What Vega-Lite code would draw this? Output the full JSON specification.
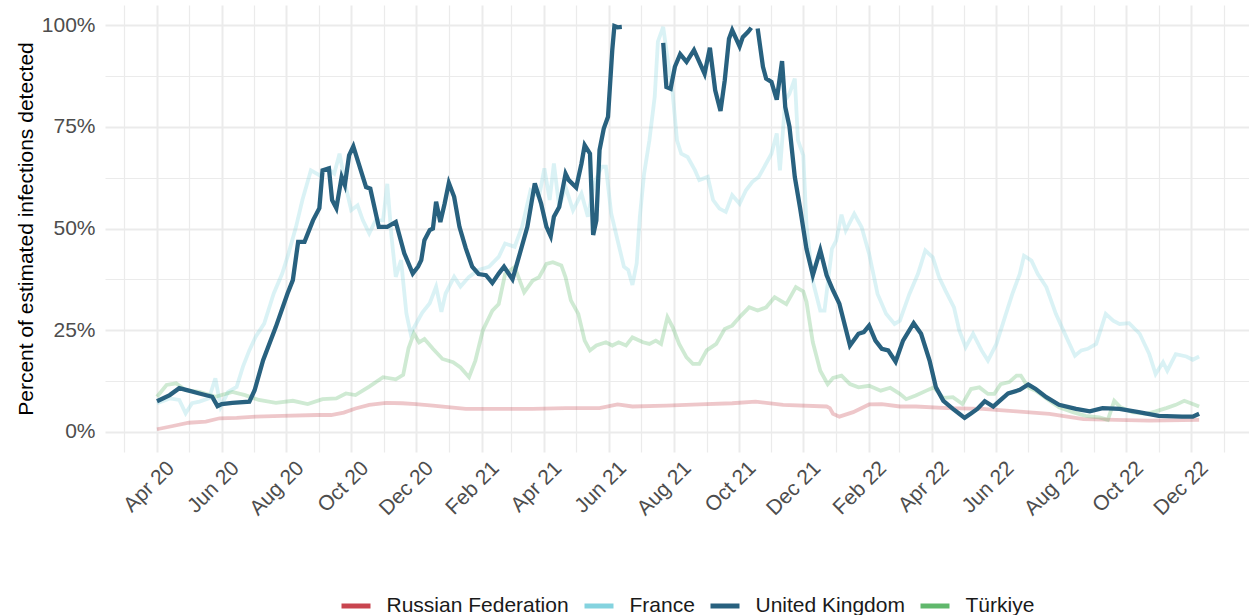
{
"$schema": "https://vega.github.io/schema/vega-lite/v6.json",
"width": 1144, "height": 447,
"autosize": {"type": "none"},
"padding": {"left": 105, "top": 5, "right": 0, "bottom": 163},
"background": "white",
"config": {"view": {"stroke": null}, "font": "Liberation Sans"},
"datasets": {
"uk": [
{"d":"2020-04-01","v":7.5},{"d":"2020-04-13","v":9.0},{"d":"2020-04-22","v":10.7},{"d":"2020-05-01","v":10.1},{"d":"2020-05-11","v":9.4},{"d":"2020-05-23","v":8.6},{"d":"2020-05-28","v":6.3},{"d":"2020-06-01","v":6.8},{"d":"2020-06-11","v":7.1},{"d":"2020-06-27","v":7.4},{"d":"2020-07-02","v":10.2},{"d":"2020-07-10","v":17.6},{"d":"2020-07-22","v":25.8},{"d":"2020-08-02","v":34},{"d":"2020-08-07","v":37.3},{"d":"2020-08-12","v":46.7},{"d":"2020-08-18","v":46.7},{"d":"2020-08-26","v":52},{"d":"2020-09-01","v":55},{"d":"2020-09-04","v":64.3},{"d":"2020-09-10","v":64.8},{"d":"2020-09-13","v":57},{"d":"2020-09-17","v":55},{"d":"2020-09-22","v":62.7},{"d":"2020-09-25","v":60.7},{"d":"2020-09-29","v":68},{"d":"2020-10-03","v":70.2},{"d":"2020-10-08","v":66},{"d":"2020-10-15","v":60.2},{"d":"2020-10-19","v":59.8},{"d":"2020-10-27","v":50.4},{"d":"2020-11-04","v":50.4},{"d":"2020-11-12","v":51.6},{"d":"2020-11-20","v":43.9},{"d":"2020-11-28","v":38.9},{"d":"2020-12-03","v":40.6},{"d":"2020-12-06","v":42.2},{"d":"2020-12-09","v":47.1},{"d":"2020-12-14","v":49.6},{"d":"2020-12-17","v":50},{"d":"2020-12-20","v":56.6},{"d":"2020-12-24","v":51.6},{"d":"2020-12-28","v":56.1},{"d":"2021-01-01","v":61.2},{"d":"2021-01-06","v":57.8},{"d":"2021-01-11","v":50.4},{"d":"2021-01-17","v":45.1},{"d":"2021-01-23","v":40.6},{"d":"2021-01-29","v":38.8},{"d":"2021-02-05","v":38.5},{"d":"2021-02-11","v":36.6},{"d":"2021-02-17","v":38.9},{"d":"2021-02-22","v":40.6},{"d":"2021-03-02","v":37.5},{"d":"2021-03-08","v":43},{"d":"2021-03-16","v":50.4},{"d":"2021-03-23","v":61.1},{"d":"2021-03-29","v":56.1},{"d":"2021-04-03","v":50.4},{"d":"2021-04-07","v":48.1},{"d":"2021-04-10","v":52.9},{"d":"2021-04-15","v":55.3},{"d":"2021-04-21","v":63.5},{"d":"2021-04-24","v":61.9},{"d":"2021-05-01","v":60.1},{"d":"2021-05-06","v":66},{"d":"2021-05-09","v":70.5},{"d":"2021-05-14","v":68.4},{"d":"2021-05-17","v":48.4},{"d":"2021-05-20","v":52},{"d":"2021-05-23","v":69.3},{"d":"2021-05-27","v":74.6},{"d":"2021-05-31","v":77.5},{"d":"2021-06-02","v":85.7},{"d":"2021-06-04","v":93.9},{"d":"2021-06-06","v":99.8},{"d":"2021-06-09","v":99.5},{"d":"2021-06-13","v":99.6},{"d":"2021-06-20","v":null},{"d":"2021-07-22","v":95.7},{"d":"2021-07-25","v":84.8},{"d":"2021-07-29","v":84.4},{"d":"2021-08-02","v":89.8},{"d":"2021-08-07","v":92.9},{"d":"2021-08-13","v":91},{"d":"2021-08-20","v":93.9},{"d":"2021-08-25","v":91},{"d":"2021-08-30","v":88.1},{"d":"2021-09-04","v":94.5},{"d":"2021-09-09","v":84},{"d":"2021-09-14","v":78.9},{"d":"2021-09-18","v":86.5},{"d":"2021-09-22","v":96.7},{"d":"2021-09-25","v":98.8},{"d":"2021-10-02","v":94.8},{"d":"2021-10-05","v":97.1},{"d":"2021-10-10","v":98.4},{"d":"2021-10-13","v":99.4},{"d":"2021-10-16","v":null},{"d":"2021-10-19","v":99.2},{"d":"2021-10-24","v":89.8},{"d":"2021-10-27","v":86.9},{"d":"2021-11-01","v":86.1},{"d":"2021-11-06","v":81.7},{"d":"2021-11-11","v":91.2},{"d":"2021-11-14","v":79.9},{"d":"2021-11-18","v":75},{"d":"2021-11-23","v":62.7},{"d":"2021-11-28","v":55},{"d":"2021-12-04","v":45},{"d":"2021-12-10","v":38.5},{"d":"2021-12-17","v":44.7},{"d":"2021-12-23","v":38.5},{"d":"2021-12-29","v":34.8},{"d":"2022-01-04","v":31.5},{"d":"2022-01-14","v":21.2},{"d":"2022-01-22","v":24.1},{"d":"2022-01-27","v":24.5},{"d":"2022-02-01","v":26.1},{"d":"2022-02-07","v":22.4},{"d":"2022-02-13","v":20.4},{"d":"2022-02-19","v":20},{"d":"2022-02-26","v":17.2},{"d":"2022-03-05","v":22.4},{"d":"2022-03-15","v":26.7},{"d":"2022-03-22","v":24.1},{"d":"2022-03-30","v":17.5},{"d":"2022-04-05","v":10.9},{"d":"2022-04-12","v":7.6},{"d":"2022-04-21","v":5.6},{"d":"2022-04-27","v":4.4},{"d":"2022-05-02","v":3.4},{"d":"2022-05-08","v":4.5},{"d":"2022-05-14","v":5.6},{"d":"2022-05-21","v":7.5},{"d":"2022-05-29","v":6.2},{"d":"2022-06-04","v":7.6},{"d":"2022-06-12","v":9.4},{"d":"2022-06-23","v":10.3},{"d":"2022-07-01","v":11.6},{"d":"2022-07-08","v":10.5},{"d":"2022-07-18","v":8.5},{"d":"2022-07-30","v":6.6},{"d":"2022-08-15","v":5.6},{"d":"2022-08-28","v":5},{"d":"2022-09-09","v":5.8},{"d":"2022-09-25","v":5.6},{"d":"2022-10-13","v":4.8},{"d":"2022-11-01","v":3.9},{"d":"2022-11-23","v":3.7},{"d":"2022-12-03","v":3.7},{"d":"2022-12-09","v":4.4}
],
"fr": [
{"d":"2020-04-01","v":7},{"d":"2020-04-13","v":8.2},{"d":"2020-04-22","v":7.8},{"d":"2020-04-28","v":4.5},{"d":"2020-05-04","v":7},{"d":"2020-05-11","v":7.4},{"d":"2020-05-20","v":8.2},{"d":"2020-05-26","v":13.1},{"d":"2020-05-31","v":6.1},{"d":"2020-06-07","v":9.8},{"d":"2020-06-15","v":11},{"d":"2020-06-21","v":16},{"d":"2020-06-27","v":20},{"d":"2020-07-03","v":23.4},{"d":"2020-07-11","v":26.6},{"d":"2020-07-20","v":34},{"d":"2020-07-28","v":38.9},{"d":"2020-08-03","v":43.9},{"d":"2020-08-10","v":50.4},{"d":"2020-08-16","v":57},{"d":"2020-08-24","v":64.3},{"d":"2020-09-01","v":63.1},{"d":"2020-09-09","v":64.8},{"d":"2020-09-15","v":63.5},{"d":"2020-09-20","v":68.4},{"d":"2020-09-26","v":60.2},{"d":"2020-10-01","v":54.5},{"d":"2020-10-07","v":55.7},{"d":"2020-10-12","v":52},{"d":"2020-10-18","v":48.8},{"d":"2020-10-24","v":52},{"d":"2020-10-31","v":52},{"d":"2020-11-04","v":61},{"d":"2020-11-08","v":48},{"d":"2020-11-12","v":38.1},{"d":"2020-11-17","v":42.2},{"d":"2020-11-22","v":29.1},{"d":"2020-11-26","v":24.2},{"d":"2020-12-01","v":26.5},{"d":"2020-12-07","v":29.3},{"d":"2020-12-14","v":31.6},{"d":"2020-12-20","v":35.7},{"d":"2020-12-25","v":29.5},{"d":"2020-12-29","v":34},{"d":"2021-01-06","v":38.1},{"d":"2021-01-12","v":35.7},{"d":"2021-01-20","v":38.1},{"d":"2021-01-29","v":39.8},{"d":"2021-02-08","v":40.6},{"d":"2021-02-17","v":43},{"d":"2021-02-23","v":46.3},{"d":"2021-03-04","v":45.5},{"d":"2021-03-11","v":50.4},{"d":"2021-03-19","v":59.4},{"d":"2021-03-27","v":57.8},{"d":"2021-04-01","v":64.8},{"d":"2021-04-06","v":57},{"d":"2021-04-10","v":66},{"d":"2021-04-15","v":55.3},{"d":"2021-04-21","v":60.2},{"d":"2021-04-28","v":54.5},{"d":"2021-05-06","v":58.6},{"d":"2021-05-12","v":52.9},{"d":"2021-05-18","v":61.1},{"d":"2021-05-25","v":65.2},{"d":"2021-05-29","v":65.2},{"d":"2021-06-03","v":53.7},{"d":"2021-06-09","v":47.1},{"d":"2021-06-15","v":40.6},{"d":"2021-06-19","v":39.8},{"d":"2021-06-23","v":36.1},{"d":"2021-06-27","v":41.4},{"d":"2021-06-30","v":52.9},{"d":"2021-07-04","v":63.5},{"d":"2021-07-09","v":71.7},{"d":"2021-07-14","v":82.4},{"d":"2021-07-17","v":96},{"d":"2021-07-22","v":99.6},{"d":"2021-07-26","v":92},{"d":"2021-07-31","v":83},{"d":"2021-08-04","v":71.7},{"d":"2021-08-08","v":68.4},{"d":"2021-08-14","v":67.6},{"d":"2021-08-21","v":64.3},{"d":"2021-08-25","v":61.9},{"d":"2021-09-02","v":62.7},{"d":"2021-09-07","v":57},{"d":"2021-09-13","v":54.9},{"d":"2021-09-19","v":54.1},{"d":"2021-09-25","v":58.2},{"d":"2021-10-02","v":56.1},{"d":"2021-10-08","v":59.4},{"d":"2021-10-14","v":61.5},{"d":"2021-10-20","v":62.7},{"d":"2021-10-27","v":66},{"d":"2021-11-01","v":68.4},{"d":"2021-11-06","v":73.4},{"d":"2021-11-09","v":64.3},{"d":"2021-11-14","v":81.6},{"d":"2021-11-18","v":83.2},{"d":"2021-11-23","v":86.9},{"d":"2021-11-26","v":71.7},{"d":"2021-12-01","v":68},{"d":"2021-12-04","v":50.8},{"d":"2021-12-10","v":37},{"d":"2021-12-17","v":29.8},{"d":"2021-12-21","v":29.8},{"d":"2021-12-28","v":45},{"d":"2022-01-01","v":47},{"d":"2022-01-06","v":53.4},{"d":"2022-01-10","v":49.5},{"d":"2022-01-18","v":53.6},{"d":"2022-01-25","v":50.3},{"d":"2022-02-01","v":43.8},{"d":"2022-02-09","v":33.9},{"d":"2022-02-17","v":29},{"d":"2022-02-25","v":26.5},{"d":"2022-03-02","v":27.3},{"d":"2022-03-11","v":33.9},{"d":"2022-03-19","v":38.8},{"d":"2022-03-26","v":44.6},{"d":"2022-04-02","v":42.9},{"d":"2022-04-08","v":38},{"d":"2022-04-14","v":34.7},{"d":"2022-04-22","v":30.6},{"d":"2022-04-27","v":24.9},{"d":"2022-05-03","v":20.8},{"d":"2022-05-10","v":24.1},{"d":"2022-05-18","v":20},{"d":"2022-05-24","v":17.5},{"d":"2022-06-01","v":21.6},{"d":"2022-06-09","v":28.2},{"d":"2022-06-16","v":33.9},{"d":"2022-06-23","v":38.8},{"d":"2022-06-27","v":43.3},{"d":"2022-07-04","v":42.1},{"d":"2022-07-10","v":38.8},{"d":"2022-07-18","v":35.6},{"d":"2022-07-27","v":29},{"d":"2022-08-06","v":23.2},{"d":"2022-08-14","v":18.7},{"d":"2022-08-20","v":20},{"d":"2022-08-26","v":20.4},{"d":"2022-09-03","v":21.6},{"d":"2022-09-12","v":29},{"d":"2022-09-19","v":27.3},{"d":"2022-09-25","v":26.5},{"d":"2022-10-04","v":26.7},{"d":"2022-10-14","v":24.1},{"d":"2022-10-23","v":19.1},{"d":"2022-10-29","v":14.2},{"d":"2022-11-05","v":17.1},{"d":"2022-11-09","v":15},{"d":"2022-11-17","v":19.1},{"d":"2022-11-27","v":18.5},{"d":"2022-12-03","v":17.7},{"d":"2022-12-09","v":18.5}
],
"tr": [
{"d":"2020-04-01","v":8.6},{"d":"2020-04-10","v":11.5},{"d":"2020-04-19","v":11.9},{"d":"2020-04-28","v":10.2},{"d":"2020-05-11","v":9.8},{"d":"2020-05-26","v":8.6},{"d":"2020-06-11","v":9.8},{"d":"2020-06-23","v":9},{"d":"2020-07-06","v":7.8},{"d":"2020-07-22","v":7.1},{"d":"2020-08-07","v":7.6},{"d":"2020-08-21","v":6.8},{"d":"2020-09-04","v":8},{"d":"2020-09-17","v":8.2},{"d":"2020-09-26","v":9.4},{"d":"2020-10-05","v":9},{"d":"2020-10-18","v":11.1},{"d":"2020-10-31","v":13.4},{"d":"2020-11-12","v":12.9},{"d":"2020-11-19","v":14},{"d":"2020-11-24","v":20.5},{"d":"2020-11-29","v":24.2},{"d":"2020-12-04","v":22},{"d":"2020-12-09","v":22.8},{"d":"2020-12-17","v":20.4},{"d":"2020-12-26","v":17.9},{"d":"2021-01-05","v":17.1},{"d":"2021-01-12","v":15.8},{"d":"2021-01-20","v":13.4},{"d":"2021-01-26","v":17.5},{"d":"2021-02-02","v":24.9},{"d":"2021-02-11","v":29.8},{"d":"2021-02-17","v":31.4},{"d":"2021-02-23","v":38.8},{"d":"2021-03-04","v":40.5},{"d":"2021-03-13","v":34.3},{"d":"2021-03-21","v":37.2},{"d":"2021-03-27","v":38},{"d":"2021-04-03","v":41.3},{"d":"2021-04-09","v":41.7},{"d":"2021-04-17","v":40.9},{"d":"2021-04-21","v":38},{"d":"2021-04-26","v":32.3},{"d":"2021-05-03","v":29},{"d":"2021-05-09","v":22.4},{"d":"2021-05-14","v":20},{"d":"2021-05-20","v":21.2},{"d":"2021-05-29","v":22},{"d":"2021-06-04","v":21.2},{"d":"2021-06-10","v":22},{"d":"2021-06-17","v":21.2},{"d":"2021-06-23","v":23.2},{"d":"2021-07-03","v":22},{"d":"2021-07-09","v":21.6},{"d":"2021-07-15","v":22.4},{"d":"2021-07-20","v":21.6},{"d":"2021-07-26","v":28.2},{"d":"2021-07-31","v":25.7},{"d":"2021-08-06","v":21.6},{"d":"2021-08-13","v":18.3},{"d":"2021-08-19","v":16.7},{"d":"2021-08-25","v":16.7},{"d":"2021-09-01","v":20},{"d":"2021-09-10","v":21.6},{"d":"2021-09-18","v":25.3},{"d":"2021-09-25","v":26.1},{"d":"2021-10-02","v":28.2},{"d":"2021-10-11","v":30.6},{"d":"2021-10-19","v":29.8},{"d":"2021-10-27","v":30.6},{"d":"2021-11-04","v":33.1},{"d":"2021-11-15","v":31.4},{"d":"2021-11-24","v":35.6},{"d":"2021-12-01","v":34.5},{"d":"2021-12-04","v":32},{"d":"2021-12-10","v":22},{"d":"2021-12-17","v":15},{"d":"2021-12-24","v":11.7},{"d":"2021-12-29","v":13.2},{"d":"2022-01-06","v":13.8},{"d":"2022-01-14","v":11.7},{"d":"2022-01-22","v":10.9},{"d":"2022-02-01","v":11.3},{"d":"2022-02-12","v":10.1},{"d":"2022-02-21","v":10.8},{"d":"2022-03-02","v":9.3},{"d":"2022-03-08","v":8},{"d":"2022-03-17","v":8.9},{"d":"2022-03-27","v":10.1},{"d":"2022-04-03","v":10.9},{"d":"2022-04-12","v":8.3},{"d":"2022-04-21","v":8.5},{"d":"2022-04-30","v":6.8},{"d":"2022-05-08","v":10.5},{"d":"2022-05-16","v":10.9},{"d":"2022-05-24","v":9.3},{"d":"2022-05-30","v":9.3},{"d":"2022-06-05","v":11.7},{"d":"2022-06-13","v":12.2},{"d":"2022-06-20","v":13.8},{"d":"2022-06-24","v":13.8},{"d":"2022-07-01","v":10.9},{"d":"2022-07-08","v":10.1},{"d":"2022-07-19","v":8},{"d":"2022-07-30","v":6},{"d":"2022-08-12","v":4.8},{"d":"2022-08-24","v":3.9},{"d":"2022-09-06","v":3.5},{"d":"2022-09-14","v":2.9},{"d":"2022-09-20","v":7.6},{"d":"2022-09-26","v":6},{"d":"2022-10-07","v":4.8},{"d":"2022-10-20","v":4.4},{"d":"2022-10-29","v":5},{"d":"2022-11-08","v":5.8},{"d":"2022-11-17","v":6.6},{"d":"2022-11-25","v":7.6},{"d":"2022-12-03","v":6.8},{"d":"2022-12-09","v":6.2}
],
"ru": [
{"d":"2020-04-01","v":0.6},{"d":"2020-04-16","v":1.4},{"d":"2020-05-01","v":2.2},{"d":"2020-05-17","v":2.5},{"d":"2020-05-30","v":3.3},{"d":"2020-06-15","v":3.4},{"d":"2020-07-03","v":3.7},{"d":"2020-07-28","v":3.9},{"d":"2020-08-30","v":4.1},{"d":"2020-09-12","v":4.1},{"d":"2020-09-24","v":4.7},{"d":"2020-10-05","v":5.7},{"d":"2020-10-18","v":6.6},{"d":"2020-11-03","v":7.1},{"d":"2020-11-18","v":7},{"d":"2020-12-01","v":6.8},{"d":"2020-12-17","v":6.4},{"d":"2021-01-17","v":5.6},{"d":"2021-02-17","v":5.6},{"d":"2021-03-21","v":5.6},{"d":"2021-04-21","v":5.8},{"d":"2021-05-23","v":5.8},{"d":"2021-06-09","v":6.7},{"d":"2021-06-23","v":6.2},{"d":"2021-07-25","v":6.4},{"d":"2021-08-25","v":6.7},{"d":"2021-09-25","v":7},{"d":"2021-10-17","v":7.4},{"d":"2021-11-12","v":6.6},{"d":"2021-12-23","v":6.2},{"d":"2021-12-26","v":5.8},{"d":"2021-12-29","v":4.4},{"d":"2022-01-04","v":3.7},{"d":"2022-01-17","v":4.8},{"d":"2022-02-01","v":6.7},{"d":"2022-02-13","v":6.8},{"d":"2022-03-02","v":6.2},{"d":"2022-03-17","v":6.2},{"d":"2022-04-16","v":5.8},{"d":"2022-05-19","v":5.6},{"d":"2022-06-20","v":5},{"d":"2022-07-21","v":4.4},{"d":"2022-08-22","v":3.1},{"d":"2022-09-22","v":2.9},{"d":"2022-10-23","v":2.7},{"d":"2022-12-09","v":2.9}
]
},
"encoding": {
"x": {"field": "d", "type": "temporal",
 "scale": {"type": "utc", "domain": [{"year": 2020, "month": 2, "date": 12, "utc": true}, {"year": 2023, "month": 1, "date": 25, "utc": true}]},
 "axis": {"title": null, "tickCount": {"interval": "month", "step": 1},
  "labelExpr": "utcmonth(datum.value) % 2 == 1 ? utcFormat(datum.value, '%b %y') : ''",
  "labelAngle": -45, "labelAlign": "right", "labelBaseline": "top", "labelFontSize": 21, "labelColor": "#4d4d4d",
  "labelPadding": 5, "labelOffset": 6, "labelOverlap": false, "labelFlush": false, "labelBound": false,
  "ticks": false, "tickSize": 0, "domain": false, "grid": true, "gridColor": "#ebebeb",
  "gridWidth": {"condition": {"test": "utcmonth(datum.value) % 2 == 1", "value": 2}, "value": 1.2}}},
"y": {"field": "v", "type": "quantitative",
 "scale": {"domain": [-5, 105], "nice": false, "zero": false},
 "axis": {"values": [0, 12.5, 25, 37.5, 50, 62.5, 75, 87.5, 100],
  "labelExpr": "datum.value % 25 == 0 ? datum.value + '%' : ''",
  "labelFontSize": 21, "labelColor": "#4d4d4d", "labelPadding": 10, "labelOverlap": false, "labelFlush": false,
  "ticks": false, "tickSize": 0, "domain": false, "grid": true, "gridColor": "#ebebeb",
  "gridWidth": {"condition": {"test": "datum.value % 25 == 0", "value": 2}, "value": 1.2},
  "title": "Percent of estimated infections detected", "titleFontSize": 21, "titleFontWeight": "normal", "titleColor": "#000000",
  "titleX": -73, "titleY": 223.5, "titleAngle": -90, "titleAlign": "center", "titleBaseline": "alphabetic"}},
"color": {"field": "c", "type": "nominal",
 "scale": {"domain": ["Russian Federation", "France", "United Kingdom", "Türkiye"], "range": ["#c8454f", "#84d3df", "#28617f", "#60b86c"]},
 "legend": {"orient": "none", "legendX": 234, "legendY": 584, "direction": "horizontal", "title": null,
  "labelFontSize": 21, "labelColor": "#1a1a1a", "labelLimit": 400, "symbolType": "stroke", "symbolSize": 841, "symbolStrokeWidth": 5,
  "symbolOpacity": 1, "labelOffset": 13.5, "columnPadding": 5, "padding": 0,
  "encode": {"symbols": {"update": {"opacity": {"value": 1}, "strokeWidth": {"value": 5}}}}}}
},
"layer": [
{"data": {"name": "ru"}, "transform": [{"calculate": "'Russian Federation'", "as": "c"}], "mark": {"type": "line", "strokeWidth": 3.8, "opacity": 0.3}},
{"data": {"name": "fr"}, "transform": [{"calculate": "'France'", "as": "c"}], "mark": {"type": "line", "strokeWidth": 3.8, "opacity": 0.3}},
{"data": {"name": "tr"}, "transform": [{"calculate": "'Türkiye'", "as": "c"}], "mark": {"type": "line", "strokeWidth": 3.8, "opacity": 0.3}},
{"data": {"name": "uk"}, "transform": [{"calculate": "'United Kingdom'", "as": "c"}], "mark": {"type": "line", "strokeWidth": 4.3, "invalid": "break-paths-filter-domains"}}
]
}
